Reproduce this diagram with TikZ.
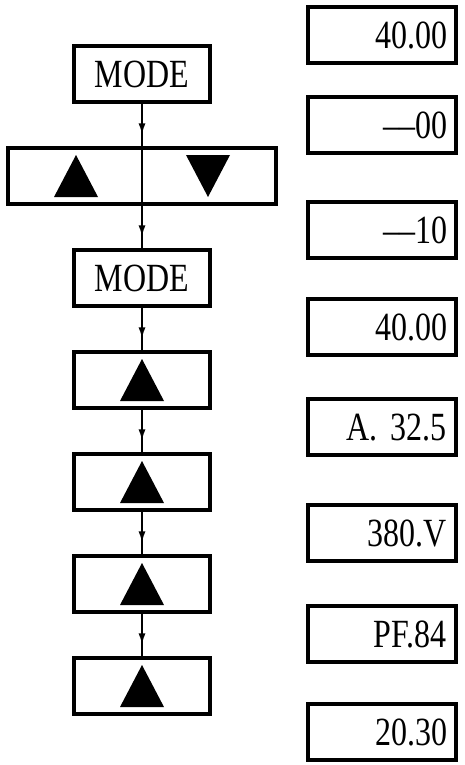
\documentclass[tikz,border=0pt]{standalone}
\usepackage{fontspec}
\setmainfont{Liberation Serif}[FakeStretch=0.8]
\usetikzlibrary{positioning, arrows.meta, decorations.markings}
\tikzset{
    key/.style={draw, line width=4.5pt, minimum width=136pt, minimum height=56pt,
        inner sep=4pt, font=\fontsize{40}{44}\selectfont},
    display/.style={key, minimum width=148pt, text width=130pt, align=right, inner xsep=9pt,
        text height=27pt, text depth=0pt},
    flow/.style={line width=2.5pt, postaction={decorate},
        decoration={markings, mark=at position 0.75 with {\arrow{Latex[length=12pt,width=7pt]}}}},
    uptri/.pic={\fill (-22,21) -- (22,21) -- (0,-21) -- cycle;},
    downtri/.pic={\fill (-22,-21) -- (22,-21) -- (0,21) -- cycle;},
}

\begin{document}
\begin{tikzpicture}[x=1pt, y=-1pt, node distance=41.5pt]
    \useasboundingbox (0,0) rectangle (465,765);

    % keys pressed
    \node[key] (mode1) at (142,74) {MODE};
    \node[key, minimum width=268pt, below=of mode1] (updown) {};
    \node[key, below=of updown] (mode2) {MODE};
    \node[key, below=of mode2] (up1) {};
    \node[key, below=of up1] (up2) {};
    \node[key, below=of up2] (up3) {};
    \node[key, below=of up3] (up4) {};

    \pic at ([xshift=-66pt]updown.center) {uptri};
    \pic at ([xshift=66pt]updown.center) {downtri};
    \foreach \k in {up1, up2, up3, up4}
        \pic at (\k) {uptri};

    \draw[flow] (mode1) -- (updown);
    \draw[line width=2.5pt] (updown.north) -- (updown.south);
    \draw[flow] (updown) -- (mode2);
    \foreach \a/\b in {mode2/up1, up1/up2, up2/up3, up3/up4}
        \draw[flow] (\a) -- (\b);

    % display readings
    \node[display] (r1) at (382,35) {40.00};
    \node[display, below=29.5pt of r1] (r2) {\textendash\textendash00};
    \node[display, below=44.5pt of r2] (r3) {\textendash\textendash10};
    \node[display, below=36.5pt of r3] (r4) {40.00};
    \node[display, below=39.5pt of r4] (r5) {A. 32.5};
    \node[display, below=45.5pt of r5] (r6) {380.V};
    \node[display, below=40.5pt of r6] (r7) {PF.84};
    \node[display, below=37.5pt of r7] (r8) {20.30};
\end{tikzpicture}
\end{document}
